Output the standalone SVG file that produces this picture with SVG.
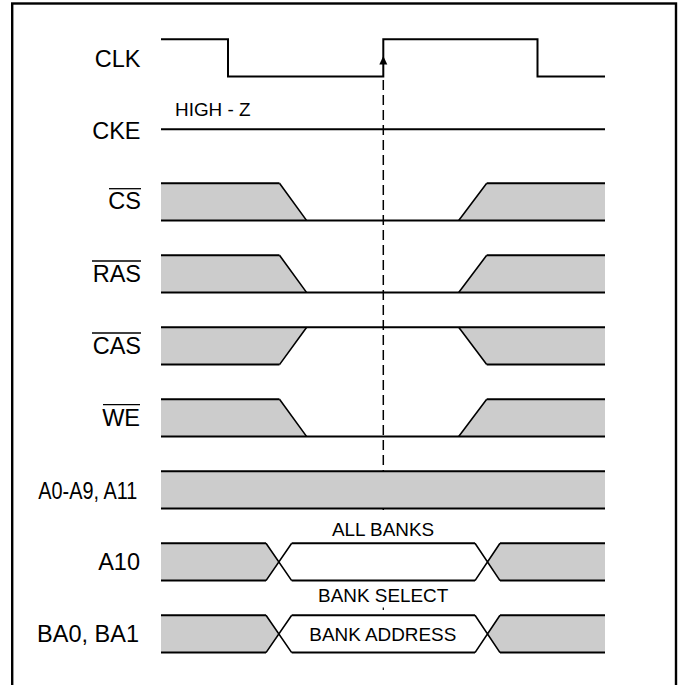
<svg xmlns="http://www.w3.org/2000/svg" width="682" height="685" viewBox="0 0 682 685">
<style>
  .lbl { font-family: "Liberation Sans", Arial, sans-serif; font-size: 23.5px; fill: #000; text-anchor: end; }
  .sm { font-family: "Liberation Sans", Arial, sans-serif; font-size: 18.9px; fill: #000; }
  .mid { text-anchor: middle; }
  .w { fill: none; stroke: #000; stroke-width: 2; stroke-linejoin: miter; }
  .d { fill: none; stroke: #000; stroke-width: 1.6; }
  .g { fill: #cccccc; stroke: none; }
  .ob { stroke: #000; stroke-width: 1.3; }
  .dash { fill: none; stroke: #000; stroke-width: 1.5; stroke-dasharray: 10 5; }
</style>
<rect x="0" y="0" width="682" height="685" fill="#fff"/>
<rect id="frame" x="12.2" y="3.5" width="663.8" height="700" fill="none" stroke="#000" stroke-width="2.4"/>

<g id="connectors">
  <line class="dash" x1="383.3" y1="80" x2="383.3" y2="512"/>
  <line x1="383.3" y1="607.5" x2="383.3" y2="610" stroke="#000" stroke-width="1.2"/>
  <polygon points="383.3,56 379.3,64.5 387.3,64.5" fill="#000"/>
</g>

<g id="clk">
  <text class="lbl" x="140.5" y="66.7">CLK</text>
  <path class="w" d="M161,39.3 H228 V76.6 H383.3 V39.3 H537.5 V76.6 H605"/>
</g>

<g id="cke">
  <text class="lbl" x="140.5" y="139.3">CKE</text>
  <text class="sm" x="175" y="116">HIGH - Z</text>
  <line class="w" x1="161" y1="129.3" x2="605" y2="129.3"/>
</g>

<g id="cs">
  <text class="lbl" x="141" y="209.3">CS</text>
  <line class="ob" x1="109" y1="188.7" x2="141" y2="188.7"/>
  <polygon class="g" points="161,183.3 279.5,183.3 306.7,220.6 161,220.6"/>
  <polygon class="g" points="458.7,220.6 486.7,183.3 605,183.3 605,220.6"/>
  <path class="w" d="M161,183.3 H279.5 M486.7,183.3 H605 M161,220.6 H605"/>
  <path class="d" d="M279.5,183.3 L306.7,220.6 M458.7,220.6 L486.7,183.3"/>
</g>

<g id="ras">
  <text class="lbl" x="141" y="281.7">RAS</text>
  <line class="ob" x1="92" y1="261" x2="141" y2="261"/>
  <polygon class="g" points="161,255.3 279.5,255.3 306.7,292.6 161,292.6"/>
  <polygon class="g" points="458.7,292.6 486.7,255.3 605,255.3 605,292.6"/>
  <path class="w" d="M161,255.3 H279.5 M486.7,255.3 H605 M161,292.6 H605"/>
  <path class="d" d="M279.5,255.3 L306.7,292.6 M458.7,292.6 L486.7,255.3"/>
</g>

<g id="cas">
  <text class="lbl" x="141" y="353.7">CAS</text>
  <line class="ob" x1="92" y1="333" x2="141" y2="333"/>
  <polygon class="g" points="161,327.3 306.7,327.3 279.5,364.6 161,364.6"/>
  <polygon class="g" points="458.7,327.3 486.7,364.6 605,364.6 605,327.3"/>
  <path class="w" d="M161,327.3 H605 M161,364.6 H279.5 M486.7,364.6 H605"/>
  <path class="d" d="M306.7,327.3 L279.5,364.6 M458.7,327.3 L486.7,364.6"/>
</g>

<g id="we">
  <text class="lbl" x="140" y="425.7">WE</text>
  <line class="ob" x1="103" y1="404.7" x2="140" y2="404.7"/>
  <polygon class="g" points="161,399.3 279.5,399.3 306.7,436.6 161,436.6"/>
  <polygon class="g" points="458.7,436.6 486.7,399.3 605,399.3 605,436.6"/>
  <path class="w" d="M161,399.3 H279.5 M486.7,399.3 H605 M161,436.6 H605"/>
  <path class="d" d="M279.5,399.3 L306.7,436.6 M458.7,436.6 L486.7,399.3"/>
</g>

<g id="addr">
  <text class="lbl" x="137.3" y="499" textLength="99" lengthAdjust="spacingAndGlyphs">A0-A9, A11</text>
  <rect class="g" x="161" y="471.3" width="444" height="37.3"/>
  <path class="w" d="M161,471.3 H605 M161,508.6 H605"/>
</g>

<g id="a10">
  <text class="lbl" x="140" y="570">A10</text>
  <text class="sm mid" x="383" y="536">ALL BANKS</text>
  <polygon class="g" points="161,543.3 266,543.3 279,562 266,580.6 161,580.6"/>
  <polygon class="g" points="487.5,562 500,543.3 605,543.3 605,580.6 500,580.6"/>
  <path class="w" d="M161,543.3 H266 M161,580.6 H266 M291.7,543.3 H475 M291.7,580.6 H475 M500,543.3 H605 M500,580.6 H605"/>
  <path class="d" d="M266,543.3 L291.7,580.6 M266,580.6 L291.7,543.3 M475,543.3 L500,580.6 M475,580.6 L500,543.3"/>
</g>

<g id="ba">
  <text class="lbl" x="139" y="641.7">BA0, BA1</text>
  <text class="sm mid" x="383.2" y="601.7">BANK SELECT</text>
  <text class="sm mid" x="382.8" y="641">BANK ADDRESS</text>
  <polygon class="g" points="161,615.3 266,615.3 279,634 266,652.6 161,652.6"/>
  <polygon class="g" points="487.5,634 500,615.3 605,615.3 605,652.6 500,652.6"/>
  <path class="w" d="M161,615.3 H266 M161,652.6 H266 M291.7,615.3 H475 M291.7,652.6 H475 M500,615.3 H605 M500,652.6 H605"/>
  <path class="d" d="M266,615.3 L291.7,652.6 M266,652.6 L291.7,615.3 M475,615.3 L500,652.6 M475,652.6 L500,615.3"/>
</g>
</svg>
